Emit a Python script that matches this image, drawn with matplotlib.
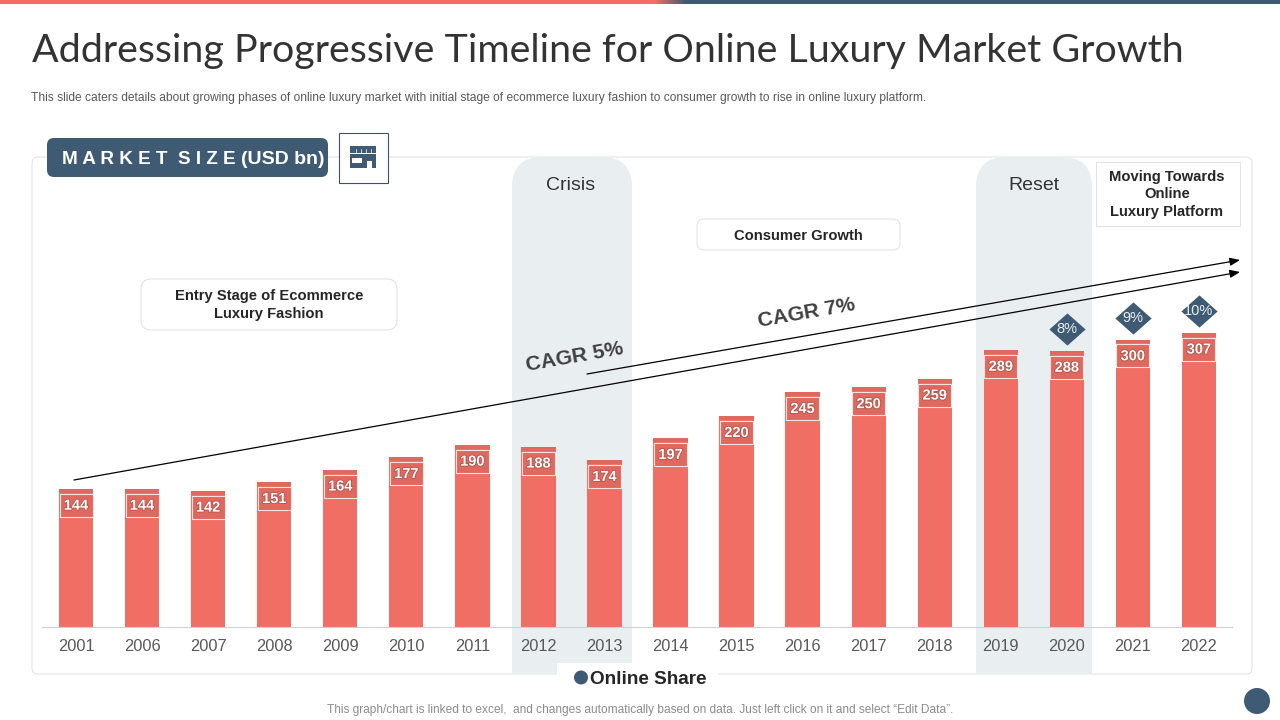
import numpy as np
import matplotlib
matplotlib.use("Agg")
import matplotlib.pyplot as plt
import matplotlib.patheffects as pe
from matplotlib.patches import FancyBboxPatch, Rectangle, Circle
from matplotlib.path import Path

years = [2001, 2006, 2007, 2008, 2009, 2010, 2011, 2012, 2013, 2014, 2015, 2016, 2017, 2018, 2019, 2020, 2021, 2022]
market_size = [144, 144, 142, 151, 164, 177, 190, 188, 174, 197, 220, 245, 250, 259, 289, 288, 300, 307]
share_years = [2020, 2021, 2022]
online_share = ["8%", "9%", "10%"]

CORAL = "#F06E63"
CORAL_DARK = "#E0685F"
SLATE = "#3F5B73"
BAND = "#E9EEF1"
BODY = ["Liberation Sans", "DejaVu Sans"]

plt.rcParams["font.family"] = BODY

fig = plt.figure(figsize=(12.8, 7.2), dpi=100)


# pixel layers for the slide furniture, one under the chart and one over it
def pixel_axes(z):
    a = fig.add_axes([0, 0, 1, 1], zorder=z)
    a.set_xlim(0, 1280)
    a.set_ylim(720, 0)
    a.axis("off")
    a.patch.set_alpha(0)
    return a


bg = pixel_axes(0)
fg = pixel_axes(2)


def round_box(a, x0, y0, x1, y1, r, fc, ec="none", lw=0.6, z=1):
    p = FancyBboxPatch((x0 + r, y0 + r), x1 - x0 - 2 * r, y1 - y0 - 2 * r,
                       boxstyle="round,pad=%f,rounding_size=%f" % (r, r),
                       fc=fc, ec=ec, lw=lw, zorder=z)
    a.add_patch(p)


# top strip, coral fading into slate
strip = np.array([[0.0 if i < 655 else min((i - 655) / 30, 1.0) for i in range(1280)]])
cmap = matplotlib.colors.LinearSegmentedColormap.from_list("strip", [CORAL, SLATE])
bg.imshow(strip, cmap=cmap, extent=(0, 1280, 4.5, 0), aspect="auto", zorder=1)
bg.set_xlim(0, 1280)
bg.set_ylim(720, 0)

bg.text(32, 51, "Addressing Progressive Timeline for Online Luxury Market Growth",
        family="Lato", weight="normal", fontsize=28.4, color="#333333", va="center")
bg.text(31, 97.5, "This slide caters details about growing phases of online luxury market with initial stage of "
        "ecommerce luxury fashion to consumer growth to rise in online luxury platform.",
        fontsize=8.63, color="#595959", va="center")

# frame and shaded periods
round_box(bg, 32, 157, 1252, 674, 6, "white", "#DCDCDC", z=1)
for x0, x1 in [(512, 632), (976, 1092)]:
    round_box(bg, x0, 157, x1, 674, 30, BAND, z=2)
    bg.add_patch(Rectangle((x0, 300), x1 - x0, 374, fc=BAND, ec="none", zorder=2))
bg.text(571, 185, "Crisis", fontsize=14, color="#333333", ha="center", va="center", zorder=3)
bg.text(1034, 185, "Reset", fontsize=14, color="#333333", ha="center", va="center", zorder=3)

# header pill and icon
round_box(bg, 47, 138, 328, 177, 7, SLATE, z=3)
bg.text(62, 159, "M A R K E T  S I Z E", fontsize=13.6, weight="bold", color="white", va="center", zorder=4)
bg.text(241, 159, "(USD bn)", fontsize=14, weight="bold", color="white", va="center", zorder=4)
bg.add_patch(Rectangle((339, 133), 49, 50, fc="white", ec="#44505A", lw=0.8, zorder=3))
bg.add_patch(Rectangle((350, 146), 26, 22, fc=SLATE, ec="none", zorder=4))
bg.add_patch(Rectangle((350, 153), 26, 1, fc="white", ec="none", zorder=5))
bg.add_patch(Rectangle((352, 158), 10, 5, fc="white", ec="none", zorder=5))
bg.add_patch(Rectangle((367, 161), 5, 7, fc="white", ec="none", zorder=5))
for x in [356, 361, 366, 371]:
    bg.plot([x, x], [149, 153], color="white", lw=0.5, zorder=5)

# phase labels
round_box(bg, 141, 279, 397, 330, 10, "white", "#DCDCDC", z=3)
bg.text(269, 305, "Entry Stage of Ecommerce\nLuxury Fashion", fontsize=10.6, weight="bold", color="#262626",
        ha="center", va="center", linespacing=1.42, zorder=4)
round_box(bg, 697, 219, 900, 250, 7, "white", "#DCDCDC", z=3)
bg.text(798, 236, "Consumer Growth", fontsize=10.6, weight="bold", color="#262626", ha="center", va="center", zorder=4)
bg.add_patch(Rectangle((1096, 162), 144, 64, fc="white", ec="#DCDCDC", lw=0.6, zorder=3))
bg.text(1167, 194.5, "Moving Towards\nOnline\nLuxury Platform", fontsize=10.6, weight="bold", color="#262626",
        ha="center", va="center", linespacing=1.36, zorder=4)

# legend gap in the frame and footer
bg.add_patch(Rectangle((557, 663), 161, 28, fc="white", ec="none", zorder=5))
bg.add_patch(Circle((581, 677.5), 7, fc=SLATE, ec="none", zorder=6))
bg.text(590, 679.5, "Online Share", fontsize=13.6, weight="bold", color="#262626", va="center", zorder=6)
bg.text(640, 709.5, "This graph/chart is linked to excel,  and changes automatically based on data. Just left click on it and select \u201cEdit Data\u201d.",
        fontsize=8.6, color="#8C8C8C", ha="center", va="center", zorder=6)
bg.add_patch(Circle((1257, 701), 13, fc=SLATE, ec="none", zorder=6))

# the chart itself, baseline at 627 px, 0.958 px per unit
ax = fig.add_axes([42 / 1280, 93 / 720, 1190 / 1280, 470 / 720], zorder=1)
ax.patch.set_alpha(0)
x = np.arange(len(years))
ax.bar(x, market_size, width=0.52, color=CORAL, zorder=2)
ax.set_xlim(-0.515, 17.5)
ax.set_ylim(0, 490.6)
ax.set_xticks(x)
ax.set_xticklabels(years, fontsize=11.8, color="#595959")
ax.tick_params(axis="x", length=0, pad=8.5)
ax.yaxis.set_visible(False)
for s in ["top", "left", "right"]:
    ax.spines[s].set_visible(False)
ax.spines["bottom"].set_color("#D0D0D0")

for i, v in zip(x, market_size):
    # strip on top of the bar and the outlined label box under it
    ax.bar(i, 4, bottom=v - 4, width=0.52, color=CORAL_DARK, zorder=3)
    ax.bar(i, 24, bottom=v - 29, width=0.5, color=CORAL_DARK, edgecolor="#FBE3E0", linewidth=0.8, zorder=3)
    ax.annotate(str(v), (i, v), xytext=(0, -12), textcoords="offset points", ha="center", va="center",
                fontsize=10.5, weight="bold", color="white", zorder=4, annotation_clip=False,
                path_effects=[pe.withStroke(linewidth=1.2, foreground="#B5544B")])

# online share diamonds sit a fixed height above their bars
diamond = Path([(-1, 0), (0, 0.89), (1, 0), (0, -0.89), (-1, 0)], closed=True)
for yr, label in zip(share_years, online_share):
    i = years.index(yr)
    v = market_size[i] + 23
    ax.scatter([i], [v], marker=diamond, s=680, color=SLATE, linewidths=0, zorder=5, clip_on=False)
    ax.text(i, v, label, fontsize=10.5, color="#E8EEF2", ha="center", va="center", zorder=6)

# CAGR arrows
arrow = dict(arrowstyle="-|>,head_length=0.6,head_width=0.24", color="black", lw=0.9, shrinkA=0, shrinkB=0)
fg.annotate("", xy=(1240, 272), xytext=(74, 480), arrowprops=arrow)
fg.annotate("", xy=(1240, 260), xytext=(587, 374), arrowprops=arrow)
fg.text(575, 357, "CAGR 5%", fontsize=15.2, weight="bold", color="#404040", rotation=10, ha="center", va="center")
fg.text(806, 313, "CAGR 7%", fontsize=15.2, weight="bold", color="#404040", rotation=10, ha="center", va="center")

fig.savefig("out.png", dpi=100)
